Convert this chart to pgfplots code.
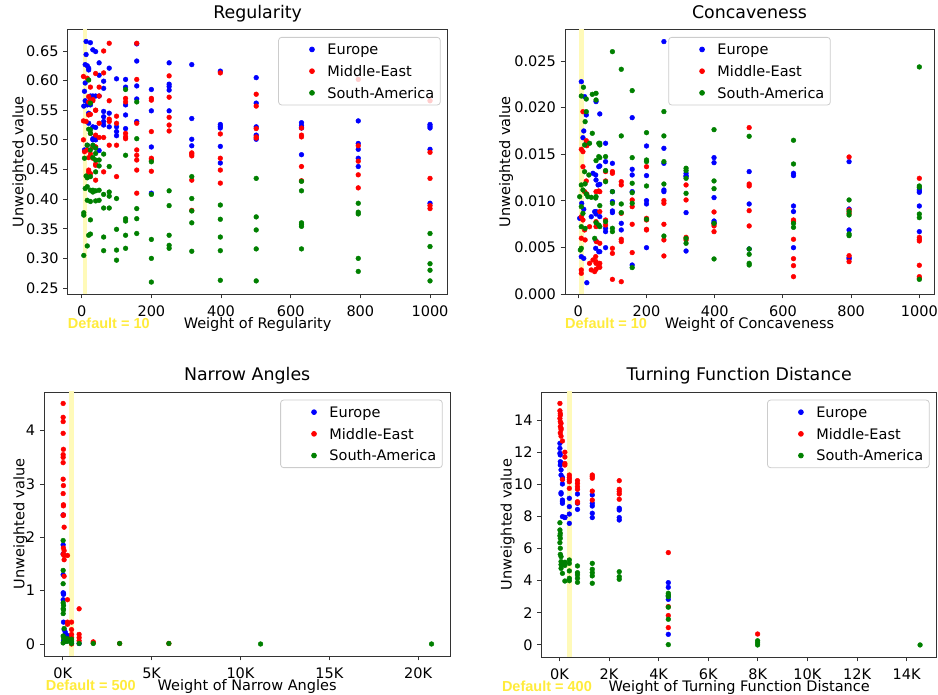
\documentclass[border=0pt]{standalone}
\usepackage{fontspec}
\setmainfont{DejaVu Sans}
\newfontfamily\deffont{Liberation Sans}
\usepackage{pgfplots}
\pgfplotsset{compat=1.18}
\definecolor{mplgreen}{RGB}{0,128,0}
\definecolor{deflabel}{RGB}{255,235,59}
\definecolor{bandcol}{RGB}{255,250,185}
\newcommand{\fs}{\fontsize{14.5}{17}\selectfont}
\tikzset{deftext/.style={font=\deffont\bfseries\fontsize{14.5}{17}\selectfont, text=deflabel, anchor=base west, inner sep=0pt}}
\pgfplotsset{
  myaxis/.style={
    scale only axis,
    anchor=south west,
    clip mode=individual,
    scaled ticks=false,
    axis line style={black!80, line width=0.9pt},
    tick style={black!80, line width=0.9pt},
    tick align=outside,
    major tick length=4.5pt,
    tick pos=left,
    /pgf/number format/assume math mode=true,
    xticklabel style={font=\fs, anchor=north, inner sep=0pt, yshift=-7.3pt},
    yticklabel style={font=\fs, anchor=east, inner sep=0pt, xshift=-4.5pt},
    title style={font=\fontsize{17.4}{20}\selectfont, at={(axis description cs:0.5,1)}, anchor=base, yshift=5pt, inner sep=0pt},
    xlabel style={font=\fs, at={(axis description cs:0.5,0)}, anchor=base, yshift=-34.3pt, inner sep=0pt},
    ylabel={Unweighted value},
    legend cell align=left,
    legend style={
      at={(0.982,0.971)}, anchor=north east,
      draw=black!20, line width=0.8pt, rounded corners=3pt,
      fill=white, fill opacity=0.8, draw opacity=1, text opacity=1,
      font=\fs, inner xsep=6pt, inner ysep=5pt, row sep=7.5pt,
      nodes={inner sep=0pt, text height=12.4pt, text depth=1.8pt},
      /tikz/every even column/.append style={column sep=12pt},
    },
  },
  dotleg/.style={legend image code/.code={\path (-12pt,0pt) (30pt,0pt); \fill[fill opacity=1] (15pt,0pt) circle (2.4pt);}},
  eu/.style={only marks, mark=*, mark size=2.4pt, color=blue, dotleg},
  me/.style={only marks, mark=*, mark size=2.4pt, color=red, dotleg},
  sa/.style={only marks, mark=*, mark size=2.4pt, color=mplgreen, dotleg},
  band/.style={color=bandcol, line width=4.5pt, mark=none, forget plot},
}
\begin{document}
\begin{tikzpicture}[x=1pt,y=1pt]
\useasboundingbox (0,0) rectangle (938,695);

% ---------------- Regularity ----------------
\begin{axis}[myaxis, at={(67.7pt,401pt)}, width=379.8pt, height=264.7pt,
  xmin=-40.2, xmax=1050.2, ymin=0.2399, ymax=0.6866,
  xtick={0,200,400,600,800,1000}, xticklabels={0,200,400,600,800,1000},
  ytick={0.25,0.30,0.35,0.40,0.45,0.50,0.55,0.60,0.65},
  yticklabels={0.25,0.30,0.35,0.40,0.45,0.50,0.55,0.60,0.65},
  title={Regularity}, xlabel={Weight of Regularity},
  ylabel style={font=\fs, at={(axis description cs:-0.117,0.5)}, anchor=base, inner sep=0pt},
]
\addplot[band] coordinates {(10,0.235) (10,0.69)};
\addplot[eu] coordinates {
(1000,0.526)(1000,0.523)(1000,0.520)(1000,0.484)(1000,0.393)
(794,0.532)(794,0.494)(794,0.484)(794,0.469)(794,0.455)
(631,0.529)(631,0.524)(631,0.521)(631,0.520)(631,0.475)
(501,0.605)(501,0.562)(501,0.522)(501,0.508)(501,0.501)
(398,0.616)(398,0.526)(398,0.523)(398,0.520)(398,0.489)(398,0.461)
(316,0.627)(316,0.536)(316,0.501)(316,0.490)
(251,0.630)(251,0.594)(251,0.590)(251,0.584)(251,0.549)
(200,0.585)(200,0.549)(200,0.488)(200,0.410)
(158,0.662)(158,0.633)(158,0.591)(158,0.569)(158,0.531)
(126,0.602)(126,0.589)(126,0.559)(126,0.542)(126,0.519)
(100,0.603)(100,0.522)(100,0.514)(100,0.507)
(79,0.621)(79,0.545)(79,0.522)
(63,0.599)(63,0.587)(63,0.548)(63,0.539)(63,0.531)(63,0.525)
(50,0.630)(50,0.609)(50,0.574)(50,0.482)
(40,0.649)(40,0.574)(40,0.521)(40,0.505)(40,0.500)
(32,0.652)(32,0.574)(32,0.502)(32,0.500)
(25,0.664)(25,0.574)(25,0.559)
(12.6,0.666)(12.6,0.644)(10,0.627)(16,0.625)(20,0.621)(20,0.618)(10,0.596)(8,0.582)(10,0.566)
(25,0.563)(16,0.559)(6,0.557)(20,0.545)(20,0.528)(32,0.522)(40,0.505)(16,0.491)(8,0.483)
};
\addplot[me] coordinates {
(1000,0.566)(1000,0.479)(1000,0.435)(1000,0.389)(1000,0.384)
(794,0.602)(794,0.490)(794,0.464)(794,0.441)(794,0.419)
(631,0.520)(631,0.508)(631,0.505)(631,0.455)(631,0.431)
(501,0.577)(501,0.557)(501,0.519)(501,0.505)(501,0.503)
(398,0.613)(398,0.510)(398,0.469)(398,0.449)(398,0.427)
(316,0.478)(316,0.476)(316,0.473)(316,0.432)(316,0.381)
(251,0.608)(251,0.572)(251,0.538)(251,0.525)(251,0.515)
(200,0.570)(200,0.567)(200,0.514)(200,0.469)(200,0.466)(200,0.447)
(158,0.663)(158,0.602)(158,0.528)(158,0.483)(158,0.474)(158,0.466)(158,0.449)(158,0.410)
(126,0.570)(126,0.564)(126,0.511)(126,0.505)(126,0.502)
(100,0.540)(100,0.528)(100,0.491)(100,0.438)
(79,0.663)(79,0.566)(79,0.535)(79,0.531)(79,0.491)
(63,0.650)(63,0.613)(63,0.504)(63,0.446)
(50,0.589)(50,0.574)(50,0.528)(50,0.504)
(40,0.612)(40,0.550)(40,0.508)(40,0.488)(40,0.459)(40,0.432)
(32,0.566)(32,0.488)(32,0.469)
(25,0.566)(25,0.543)(25,0.476)
(5,0.607)(16,0.604)(25,0.589)(20,0.573)(32,0.568)(20,0.564)(40,0.550)(20,0.542)(5,0.532)(12.6,0.531)
(25,0.511)(5,0.500)(40,0.488)(16,0.483)(8,0.480)(20,0.470)(40,0.457)(20,0.449)(20,0.445)(25,0.443)
};
\addplot[sa] coordinates {
(1000,0.342)(1000,0.320)(1000,0.291)(1000,0.280)(1000,0.262)
(794,0.393)(794,0.378)(794,0.375)(794,0.300)(794,0.278)
(631,0.430)(631,0.414)(631,0.360)(631,0.357)(631,0.354)(631,0.316)
(501,0.435)(501,0.370)(501,0.348)(501,0.316)(501,0.262)
(398,0.390)(398,0.366)(398,0.336)(398,0.313)(398,0.263)
(316,0.438)(316,0.401)(316,0.380)(316,0.360)(316,0.312)
(251,0.414)(251,0.389)(251,0.339)(251,0.322)(251,0.317)
(200,0.463)(200,0.408)(200,0.332)(200,0.300)(200,0.260)
(158,0.564)(158,0.502)(158,0.384)(158,0.367)(158,0.342)
(126,0.585)(126,0.474)(126,0.367)(126,0.363)(126,0.339)(126,0.317)
(100,0.401)(100,0.349)(100,0.314)(100,0.297)
(79,0.455)(79,0.412)(79,0.405)(79,0.385)
(63,0.476)(63,0.408)(63,0.385)(63,0.336)(63,0.313)
(50,0.466)(50,0.456)(50,0.415)(50,0.398)
(40,0.486)(40,0.477)(40,0.466)(40,0.446)(40,0.414)(40,0.397)
(32,0.491)(32,0.470)(32,0.415)(32,0.412)
(25,0.517)(25,0.483)(25,0.438)(25,0.415)(25,0.396)(25,0.341)
(20,0.601)(25,0.562)(20,0.518)(25,0.511)(16,0.491)(8,0.469)(12.6,0.439)(16,0.436)(16,0.421)
(10,0.418)(16,0.398)(6,0.377)(6,0.373)(25,0.365)(20,0.339)(16,0.321)(6,0.305)
};
\legend{Europe,Middle-East,South-America}
\node[deftext] at (axis description cs:0,0) [yshift=-34.3pt] {Default = 10};
\end{axis}

% ---------------- Concaveness ----------------
\begin{axis}[myaxis, at={(565pt,401pt)}, width=369pt, height=264.7pt,
  xmin=-39, xmax=1043, ymin=0, ymax=0.0284,
  xtick={0,200,400,600,800,1000}, xticklabels={0,200,400,600,800,1000},
  ytick={0,0.005,0.010,0.015,0.020,0.025},
  yticklabels={0.000,0.005,0.010,0.015,0.020,0.025},
  title={Concaveness}, xlabel={Weight of Concaveness},
  ylabel style={font=\fs, at={(axis description cs:-0.149,0.5)}, anchor=base, inner sep=0pt},
  legend style={at={(0.5,0.971)}, anchor=north},
]
\addplot[band] coordinates {(10,-0.0005) (10,0.029)};
\addplot[eu] coordinates {
(1000,0.01123)(1000,0.01105)(1000,0.01091)(1000,0.00944)(1000,0.00669)
(794,0.0142)(794,0.00912)(794,0.00687)(794,0.0039)(794,0.00376)
(631,0.01295)(631,0.0127)(631,0.00944)(631,0.00884)(631,0.00497)
(501,0.01313)(501,0.00966)(501,0.00483)
(398,0.01463)(398,0.01409)(398,0.01034)(398,0.00783)(398,0.00765)
(316,0.01295)(316,0.0127)(316,0.01259)(316,0.00873)(316,0.00461)
(251,0.02708)(251,0.01563)(251,0.01402)(251,0.01116)(251,0.01098)
(200,0.01588)(200,0.0127)(200,0.01002)(200,0.00966)(200,0.00497)
(158,0.01892)(158,0.01338)(158,0.01277)(158,0.01098)(158,0.00311)
(126,0.00758)(126,0.00687)
(100,0.01402)(100,0.01098)(100,0.00991)(100,0.00891)(100,0.00873)
(80,0.01617)(80,0.0142)(80,0.00705)(80,0.00669)(80,0.00497)
(63,0.01932)(63,0.01374)(63,0.01177)(63,0.0083)(63,0.00454)
(52,0.02064)(52,0.01223)(52,0.00884)(52,0.00858)(52,0.00569)
(8.8,0.02278)(18.5,0.02117)(23.4,0.01921)(16,0.01749)(13.6,0.01677)(23.4,0.01623)(10,0.00973)
(16,0.00909)(4,0.00812)(8.8,0.004)(16,0.00382)(25,0.00121)(43,0.01295)(51,0.01277)(48,0.00883)
(38,0.00829)(51,0.0049)(60,0.00454)(58,0.0117)(60,0.01366)
};
\addplot[me] coordinates {
(1000,0.01241)(1000,0.00608)(1000,0.00587)(1000,0.00569)(1000,0.00308)(1000,0.00186)(1000,0.00168)
(794,0.0147)(794,0.00901)(794,0.00866)(794,0.00411)(794,0.00347)
(631,0.00794)(631,0.00776)(631,0.00587)(631,0.00379)(631,0.00304)(631,0.00186)
(501,0.01785)(501,0.0118)(501,0.01159)(501,0.00894)(501,0.0073)
(398,0.0088)(398,0.00751)(398,0.0073)(398,0.00669)
(316,0.0117)(316,0.01009)(316,0.00608)(316,0.0058)
(251,0.01002)(251,0.00973)(251,0.00748)(251,0.0058)(251,0.00408)
(200,0.01366)(200,0.00812)(200,0.00794)(200,0.00694)(200,0.00687)
(158,0.01009)(158,0.00937)(158,0.00748)(158,0.00444)
(126,0.01205)(126,0.0117)(126,0.00866)(126,0.00587)(126,0.00562)(126,0.00132)
(100,0.01313)(100,0.01295)(100,0.0049)(100,0.00436)(100,0.00157)
(80,0.01313)(80,0.01213)(80,0.00794)(80,0.0074)
(63,0.01098)(63,0.00884)(63,0.00544)(63,0.00329)(63,0.00286)
(52,0.01098)(52,0.00776)(52,0.00723)(52,0.00347)(52,0.00329)(52,0.00265)
(13.6,0.01956)(8.8,0.01552)(13.6,0.01527)(23.4,0.01645)(25,0.01591)(13.6,0.01366)(23.4,0.01212)
(18.5,0.01098)(25,0.01073)(8.8,0.00829)(13.6,0.00794)(18.5,0.00687)(8.8,0.00598)(20,0.0058)
(33,0.00329)(8.8,0.00258)(8.8,0.00222)(38,0.00258)(48,0.0024)(43,0.00365)(51,0.00401)(60,0.00293)
(60,0.01105)(33,0.00722)(53,0.00562)
};
\addplot[sa] coordinates {
(1000,0.02436)(1000,0.01159)(1000,0.01145)(1000,0.00858)(1000,0.00819)(1000,0.00157)
(794,0.01009)(794,0.00884)(794,0.00848)(794,0.00644)(794,0.00626)
(631,0.01649)(631,0.01395)(631,0.00758)(631,0.00715)
(501,0.01692)(501,0.00483)(501,0.00426)(501,0.00329)(501,0.00311)
(398,0.01763)(398,0.01213)(398,0.0113)(398,0.00758)(398,0.00376)
(316,0.01349)(316,0.01324)(316,0.01241)(316,0.0108)(316,0.00597)(316,0.00544)
(251,0.01957)(251,0.01696)(251,0.0142)(251,0.0118)(251,0.00622)
(200,0.01731)(200,0.01438)(200,0.0142)(200,0.01159)(200,0.00801)
(158,0.02182)(158,0.01463)(158,0.01188)(158,0.01087)(158,0.00973)(158,0.00283)
(126,0.02411)(126,0.01696)(126,0.00966)(126,0.00873)
(100,0.026)(100,0.01098)(100,0.00973)(100,0.00705)(100,0.00669)
(80,0.01474)(80,0.01324)(80,0.01205)(80,0.00776)
(63,0.01617)(63,0.01599)(63,0.01463)(63,0.00948)(63,0.00723)
(52,0.02153)(52,0.02082)(52,0.01431)(52,0.01045)(52,0.00765)
(15,0.02218)(8.8,0.02124)(23.4,0.02092)(23.4,0.01956)(41,0.02142)(20,0.01849)(41,0.01724)
(18.5,0.01599)(33,0.01617)(60,0.01617)(60,0.01474)(18.5,0.01312)(31,0.01277)(8.8,0.0117)
(20,0.01181)(13.6,0.01116)(4,0.01044)(28,0.01044)(8.8,0.00937)(13.6,0.00865)(23.4,0.01073)
(38,0.01037)(51,0.0103)(8.8,0.00722)(20,0.00704)(8.8,0.0049)(6,0.00472)(48,0.00597)(60,0.0074)
};
\legend{Europe,Middle-East,South-America}
\node[deftext] at (axis description cs:0,0) [yshift=-34.3pt] {Default = 10};
\end{axis}

% ---------------- Narrow Angles ----------------
\begin{axis}[myaxis, at={(44.3pt,39pt)}, width=405.7pt, height=264pt,
  xmin=-1040, xmax=21790, ymin=-0.225, ymax=4.725,
  xtick={0,5000,10000,15000,20000}, xticklabels={0K,5K,10K,15K,20K},
  ytick={0,1,2,3,4}, yticklabels={0,1,2,3,4},
  title={Narrow Angles}, xlabel={Weight of Narrow Angles},
  ylabel style={font=\fs, at={(axis description cs:-0.049,0.5)}, anchor=base, inner sep=0pt},
]
\addplot[band] coordinates {(500,-0.3) (500,4.8)};
\addplot[eu] coordinates {
(20,2.42)(20,1.86)(20,1.69)(20,1.30)(22,0.96)(41,0.95)(41,0.93)(22,0.83)(41,0.41)(76,0.27)
(142,0.22)(142,0.16)(264,0.12)(264,0.06)(264,0.16)(264,0.11)(142,0.05)(41,0.06)(493,0.02)(920,0.01)
};
\addplot[me] coordinates {
(20,4.51)(20,4.25)(20,4.17)(20,3.95)(35,3.65)(20,3.55)(20,3.50)(20,3.40)(20,3.09)(35,2.97)
(20,2.82)(35,2.61)(35,2.59)(35,2.42)(20,2.41)(76,2.19)(35,1.80)(76,1.75)(20,1.68)(76,1.66)
(264,1.66)(76,1.58)(76,1.27)(264,0.83)(264,0.37)(264,0.41)(493,0.41)(493,0.27)(493,0.18)(493,0.12)
(920,0.66)(920,0.18)(920,0.12)(920,0.06)(1715,0.04)(1715,0.02)(3200,0.01)(5970,0.01)(493,0.0)
};
\addplot[sa] coordinates {
(20,1.94)(22,1.38)(20,1.13)(22,0.77)(41,0.72)(22,0.66)(41,0.64)(22,0.57)(76,0.29)(22,0.15)
(41,0.12)(76,0.09)(142,0.05)(20,0.02)(264,0.10)(264,0.05)(493,0.09)(493,0.05)(493,0.01)(920,0.01)
(1715,0.01)(3200,0.01)(5970,0.01)(11130,0.0)(20750,0.0)
};
\legend{Europe,Middle-East,South-America}
\node[deftext] at (axis description cs:0,0) [yshift=-34.3pt, xshift=1.4pt] {Default = 500};
\end{axis}

% ---------------- Turning Function Distance ----------------
\begin{axis}[myaxis, at={(541.7pt,38pt)}, width=395pt, height=265pt,
  xmin=-714, xmax=15210, ymin=-0.75, ymax=15.75,
  xtick={0,2000,4000,6000,8000,10000,12000,14000}, xticklabels={0K,2K,4K,6K,8K,10K,12K,14K},
  ytick={0,2,4,6,8,10,12,14}, yticklabels={0,2,4,6,8,10,12,14},
  title={Turning Function Distance}, xlabel={Weight of Turning Function Distance},
  ylabel style={font=\fs, at={(axis description cs:-0.076,0.5)}, anchor=base, inner sep=0pt},
]
\addplot[band] coordinates {(400,-1) (400,16)};
\addplot[eu] coordinates {
(20,12.55)(20,12.24)(20,11.93)(36,11.83)(36,11.41)(66,11.35)(36,11.2)(66,10.9)(66,10.58)(121,10.43)
(121,10.31)(121,10.02)(66,9.48)(66,9.40)(121,9.02)(121,8.92)(121,8.82)(121,7.99)(220,7.93)(220,7.95)
(400,9.13)(400,8.61)(400,8.15)(400,7.57)
(728,9.40)(728,8.82)(728,8.44)
(1325,9.34)(1325,8.82)(1325,8.65)(1325,8.2)(1325,7.93)
(2412,8.51)(2412,8.40)(2412,7.93)(2412,7.78)
(4390,3.88)(4390,3.59)(4390,3.05)(4390,2.84)(4390,0.66)
};
\addplot[me] coordinates {
(20,15.04)(20,14.58)(36,14.4)(36,14.3)(20,14.1)(36,13.9)(66,13.8)(36,13.6)(66,13.5)(66,13.4)
(36,13.2)(66,13.0)(121,12.7)(220,12.0)(220,11.7)(220,11.3)(220,11.2)(121,10.3)
(400,10.58)(400,10.43)(400,10.31)(400,10.16)(400,9.75)
(728,10.23)(728,10.06)(728,9.85)(728,9.69)(728,8.92)(728,8.85)
(1325,10.58)(1325,10.48)(1325,10.38)(1325,9.58)(1325,9.02)
(2412,10.23)(2412,9.69)(2412,9.55)(2412,9.40)(2412,9.07)
(4390,5.75)(4390,2.39)(4390,1.83)(4390,1.08)
(7990,0.68)
};
\addplot[sa] coordinates {
(20,7.61)(20,7.16)(36,6.95)(20,6.8)(36,6.64)(20,6.37)(36,6.02)(36,5.64)(66,5.5)(66,5.19)
(121,5.1)(220,5.15)(121,5.0)(220,4.95)(66,4.77)(121,4.46)(220,3.98)(66,5.0)
(400,5.29)(400,5.08)(400,4.61)(400,4.15)(400,4.00)
(728,4.92)(728,4.50)(728,4.36)(728,4.15)(728,3.90)
(1325,5.08)(1325,4.71)(1325,4.50)(1325,4.30)(1325,3.84)
(2412,4.56)(2412,4.25)(2412,4.09)
(4390,3.22)(4390,3.1)(4390,3.0)(4390,2.35)(4390,1.60)(4390,0.02)
(7990,0.0)(7990,0.13)(7990,0.26)
(14540,0.0)
};
\legend{Europe,Middle-East,South-America}
\node[deftext] at (axis description cs:-0.101,0) [yshift=-34.3pt] {Default = 400};
\end{axis}
\end{tikzpicture}
\end{document}
